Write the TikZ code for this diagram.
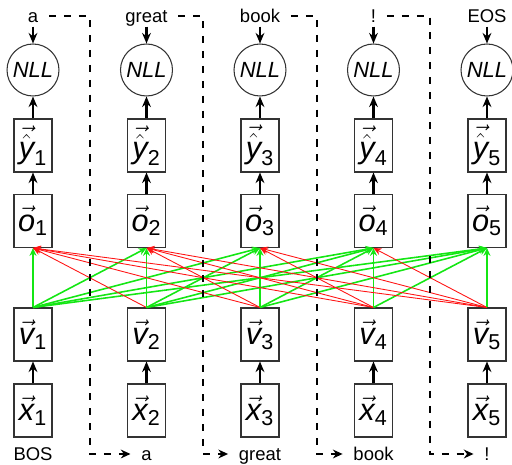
\documentclass[tikz,border=0pt]{standalone}
\usepackage{fontspec}
\setmainfont{Liberation Sans}
\usepackage{tikz}
\usetikzlibrary{arrows.meta}
\definecolor{fwdgreen}{RGB}{20,230,20}
\definecolor{bwdred}{RGB}{255,20,20}
\tikzset{
vecbox/.style={rectangle, draw=black!80, line width=0.6pt, minimum width=0.76cm, minimum height=1.06cm, inner sep=0pt, font=\fontsize{17.5}{19}\selectfont},
nllnode/.style={circle, draw=black!80, line width=0.6pt, minimum size=1.04cm, inner sep=0pt, font=\fontsize{12.5}{14}\selectfont\itshape},
wordnode/.style={inner sep=2pt, text height=7.6pt, text depth=0pt},
flow/.style={-{Stealth[length=6pt,width=5pt]}, line width=1.2pt},
fwdedge/.style={fwdgreen, line width=0.9pt, -{Stealth[length=4.5pt,width=4pt]}},
bwdedge/.style={bwdred, line width=0.5pt, -{Stealth[length=4.5pt,width=4pt]}},
feedline/.style={dash pattern=on 4pt off 4.5pt, line width=1.1pt, -{Stealth[length=5.5pt,width=5pt]}, shorten <=4pt, shorten >=4pt}
}
\newcommand{\vecsym}[2]{$\vec{\mathit{#1}}_{\mathrm{#2}}$}

\begin{document}
\begin{tikzpicture}[x=0.02cm, y=-0.02cm, font=\fontsize{10.5}{12}\selectfont]
\useasboundingbox (0,0) rectangle (512,465);

%Columns
\foreach \i/\tgt/\src in {1/a/BOS, 2/great/a, 3/book/great, 4/!/book, 5/EOS/!}{
  \pgfmathsetmacro{\cx}{33+113.5*(\i-1)}
  \node [wordnode] (out\i) at (\cx,16) {\tgt};
  \node [nllnode] (nll\i) at (\cx,70) {NLL};
  \node [vecbox] (yhat\i) at (\cx,145.5) {$\vec{\hat{\mathit{y}}}_{\mathrm{\i}}$};
  \node [vecbox] (o\i) at (\cx,221) {\vecsym{o}{\i}};
  \node [vecbox] (v\i) at (\cx,334.5) {\vecsym{v}{\i}};
  \node [vecbox] (x\i) at (\cx,410.5) {\vecsym{x}{\i}};
  \node [wordnode] (in\i) at (\cx,454) {\src};
}

%Lines
\foreach \i in {1,...,5}{
  \draw[flow] (out\i.south) -- (nll\i.north);
  \draw[flow] (yhat\i.north) -- (nll\i.south);
  \draw[flow] (o\i.north) -- (yhat\i.south);
  \draw[flow] (x\i.north) -- (v\i.south);
}

%Attention
\foreach \j in {1,...,5}{
  \foreach \i in {1,...,5}{
    \ifnum\j>\i
      \draw[bwdedge] (v\j.north) -- (o\i.south);
    \else
      \draw[fwdedge] (v\j.north) -- (o\i.south);
    \fi
  }
}

%Shifted targets
\foreach \i [evaluate=\i as \j using int(\i+1)] in {1,...,4}{
  \pgfmathsetmacro{\gx}{89.75+113.5*(\i-1)}
  \coordinate (gap\i) at (\gx,454);
  \draw[feedline] (out\i.east) -| (gap\i) -- (in\j.west);
}

\end{tikzpicture}
\end{document}
